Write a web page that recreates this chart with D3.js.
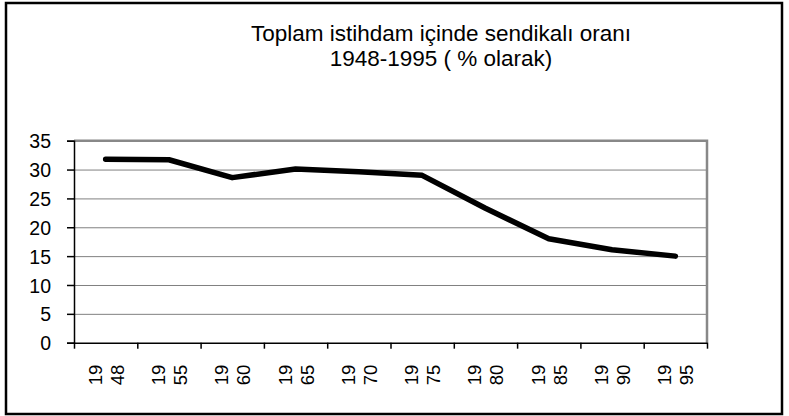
<!DOCTYPE html>
<html>
  <head>
    <meta charset="UTF-8">
    <script src="https://d3js.org/d3.v7.min.js"></script>
    <style>
      body { margin: 0; background: #fff; }
      text { font-family: "Liberation Sans", Arial, sans-serif; fill: #000; }
      .gridlines .domain { stroke: none }
      .gridlines line { stroke: #808080; }
    </style>
    <title>Sendikalı oranı</title>
  </head>
  <body>
    <svg id="chart" width="789" height="416"></svg>
    <script>
      // data
      const years = ["1948", "1955", "1960", "1965", "1970", "1975", "1980", "1985", "1990", "1995"];
      const rates = [31.8, 31.7, 28.6, 30.1, 29.6, 29.0, 23.3, 18.0, 16.1, 15.0];
      const yTicks = [0, 5, 10, 15, 20, 25, 30, 35];
      const titleLines = ["Toplam istihdam içinde sendikalı oranı", "1948-1995 ( % olarak)"];

      const svg = d3.select("svg#chart");
      const margin = { "top": 140.7, "left": 74, "right": 707, "bottom": 342.7 };

      // outer frame
      svg.append("rect")
         .attr("x", 6).attr("y", 3)
         .attr("width", 776).attr("height", 411)
         .attr("fill", "none").attr("stroke", "#000").attr("stroke-width", 2.5);

      const x = d3.scaleBand().domain(years).range([margin.left, margin.right]).padding(0);
      const y = d3.scaleLinear().domain([0, 35]).range([margin.bottom, margin.top]);
      const xEdge = d3.scaleLinear().domain([0, years.length]).range([margin.left, margin.right]);

      // gridlines
      svg.append("g")
         .attr("class", "gridlines")
         .attr("transform", "translate(" + margin.left + ",0)")
         .call(d3.axisLeft(y).tickValues(yTicks.slice(1)).tickFormat("").tickSize(-(margin.right - margin.left)));

      // plot area border (top + right)
      svg.append("path")
         .attr("d", "M" + margin.left + "," + y(35) + "H" + margin.right + "V" + y(0))
         .attr("fill", "none").attr("stroke", "#888").attr("stroke-width", 2.5);

      // y axis
      let yAxis = svg.append("g")
         .attr("transform", "translate(" + margin.left + ",0)")
         .call(d3.axisLeft(y).tickValues(yTicks).tickSizeOuter(0).tickSize(7).tickPadding(16));
      yAxis.selectAll("line, path").attr("stroke", "#000").attr("stroke-width", 1.5);
      yAxis.selectAll("text").style("font-size", "19.5px").attr("dy", "0.36em");

      // x axis ticks at category boundaries
      let xAxis = svg.append("g")
         .attr("transform", "translate(0," + margin.bottom + ")")
         .call(d3.axisBottom(xEdge).ticks(years.length).tickFormat("").tickSize(6).tickSizeOuter(0));
      xAxis.selectAll("line, path").attr("stroke", "#000").attr("stroke-width", 1.5);

      // wrapped rotated category labels
      let labels = svg.append("g").selectAll("g.lab").data(years).enter()
         .append("g")
         .attr("class", "lab")
         .attr("transform", d => "translate(" + (x(d) + x.bandwidth() / 2) + ",375) rotate(-90)");
      labels.append("text")
         .attr("text-anchor", "middle")
         .style("font-size", "18.5px")
         .attr("y", -4)
         .text(d => d.slice(0, 2));
      labels.append("text")
         .attr("text-anchor", "middle")
         .style("font-size", "18.5px")
         .attr("y", 18)
         .text(d => d.slice(2));

      // the line
      const line = d3.line()
         .x((d, i) => x(years[i]) + x.bandwidth() / 2)
         .y(d => y(d));
      svg.append("path")
         .datum(rates)
         .attr("d", line)
         .attr("fill", "none")
         .attr("stroke", "#000")
         .attr("stroke-width", 5.5)
         .attr("stroke-linejoin", "round")
         .attr("stroke-linecap", "round");

      // title
      svg.append("g").selectAll("text").data(titleLines).enter()
         .append("text")
         .attr("x", 441)
         .attr("y", (d, i) => 41 + i * 25)
         .attr("text-anchor", "middle")
         .style("font-size", "22.5px")
         .text(d => d);
    </script>
  </body>
</html>
